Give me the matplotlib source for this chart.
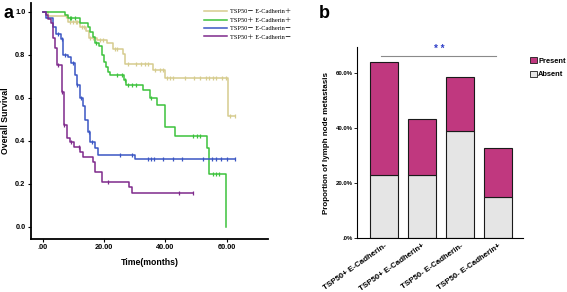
import numpy as np
import matplotlib
matplotlib.use("Agg")
import matplotlib.pyplot as plt
from matplotlib.font_manager import FontProperties
from matplotlib.patches import Patch

# ---------------- data: panel a (Kaplan-Meier) ----------------
tan_t = [0, 1.8, 8.4, 12.2, 14.1, 15.2, 17.6, 20.9, 23.0, 26.3, 26.8, 36.1, 39.9, 60.3]
tan_s = [1.0, 0.98, 0.953, 0.93, 0.912, 0.879, 0.868, 0.856, 0.825, 0.803, 0.757, 0.729, 0.69, 0.515]
tan_c = [7.5, 8.9, 9.8, 10.9, 11.3, 12.7, 13.5, 15.6, 16.5, 18.7, 19.8, 23.6, 24.3, 27.9, 30.6,
         32.0, 33.5, 34.4, 36.6, 38.3, 39.3, 40.6, 41.5, 42.4, 46.4, 49.3, 51.3, 53.2, 54.4,
         55.4, 56.7, 58.4, 59.8, 61.1, 62.7]

grn_t = [0, 7.3, 8.4, 12.2, 14.9, 15.4, 16.5, 17.1, 18.5, 19.2, 20.1, 20.6, 21.4, 21.9, 26.5,
         27.2, 32.8, 35.0, 37.2, 39.9, 43.1, 53.5, 54.3, 59.7]
grn_s = [1.0, 0.985, 0.969, 0.946, 0.93, 0.907, 0.884, 0.856, 0.84, 0.799, 0.767, 0.744, 0.721,
         0.706, 0.682, 0.659, 0.636, 0.60, 0.566, 0.465, 0.422, 0.365, 0.244, 0.0]
grn_c = [8.9, 9.4, 10.5, 17.4, 24.3, 25.8, 26.8, 27.9, 29.0, 30.6, 35.5, 49.1, 50.2, 51.3,
         55.6, 56.5, 57.4]

blu_t = [0, 1.0, 3.5, 4.3, 6.0, 6.7, 8.4, 9.2, 10.5, 11.1, 12.2, 13.2, 13.8, 14.7, 15.6,
         17.1, 18.1, 30.2]
blu_s = [1.0, 0.969, 0.93, 0.895, 0.873, 0.799, 0.788, 0.76, 0.706, 0.659, 0.60, 0.561, 0.496,
         0.442, 0.395, 0.365, 0.333, 0.315]
blu_c = [5.1, 6.4, 7.3, 9.8, 11.3, 12.4, 15.0, 16.2, 25.2, 29.3, 34.4, 35.5, 36.4, 39.3, 42.4,
         45.3, 52.4, 55.3, 56.5, 58.1, 60.2, 62.7]

pur_t = [0, 1.1, 1.8, 2.6, 3.3, 4.0, 4.6, 6.2, 7.0, 8.1, 8.9, 10.2, 12.2, 13.2, 16.3, 17.1,
         19.2, 28.2, 29.3]
pur_s = [1.0, 0.985, 0.966, 0.946, 0.876, 0.833, 0.752, 0.625, 0.473, 0.414, 0.393, 0.372,
         0.349, 0.326, 0.302, 0.256, 0.209, 0.183, 0.158]
pur_c = [5.1, 6.4, 7.0, 9.2, 12.0, 21.2, 44.4, 48.9]

km_labels = ["TSP50－ E-Cadherin＋", "TSP50＋ E-Cadherin＋",
             "TSP50－ E-Cadherin－", "TSP50＋ E-Cadherin－"]
km_colors = ["#d6cc8e", "#3cc23c", "#3a56c4", "#7f2a8c"]

# ---------------- data: panel b (stacked bars) ----------------
groups = ["TSP50+ E-Cadherin-", "TSP50+ E-Cadherin+", "TSP50- E-Cadherin-", "TSP50- E-Cadherin+"]
absent = [23.1, 23.1, 38.9, 14.9]
present = [41.2, 20.3, 19.9, 17.8]

sans = "Liberation Sans"

fig = plt.figure(figsize=(5.67, 2.92), dpi=100)

# ---------------- panel a ----------------
ax = fig.add_axes([31/567, 1-238.7/292, (268-31)/567, (238.7-3)/292])
series = [(tan_t, tan_s, tan_c), (grn_t, grn_s, grn_c), (blu_t, blu_s, blu_c), (pur_t, pur_s, pur_c)]
handles = []
for (t, s, c), col, lab in zip(series, km_colors, km_labels):
    t = np.asarray(t, float); s = np.asarray(s, float)
    tend = max(t[-1], max(c))
    tt = np.append(t, tend); ss = np.append(s, s[-1])
    h, = ax.step(tt, ss, where="post", color=col, lw=1.1, label=lab)
    handles.append(h)
    idx = np.searchsorted(t, np.asarray(c), side="right") - 1
    ax.plot(c, s[idx], ls="none", marker="|", ms=3.5, mew=0.9, color=col)

ax.set_xlim(-3.8, 73.5)
ax.set_ylim(-0.056, 1.04)
ax.set_xticks([0, 20, 40, 60])
ax.set_xticklabels([".00", "20.00", "40.00", "60.00"])
ax.set_yticks([0, 0.2, 0.4, 0.6, 0.8, 1.0])
ax.set_yticklabels(["0.0", "0.2", "0.4", "0.6", "0.8", "1.0"])
for sp in ["top", "right"]:
    ax.spines[sp].set_visible(False)
for sp in ["left", "bottom"]:
    ax.spines[sp].set_linewidth(1.3)
ax.tick_params(axis="both", length=2, width=0.8, pad=2)
for lbl in ax.get_xticklabels() + ax.get_yticklabels():
    lbl.set_fontfamily(sans); lbl.set_fontweight("bold"); lbl.set_fontsize(5.3)
ax.set_xlabel("Time(months)", fontfamily=sans, fontweight="bold", fontsize=6.3, labelpad=5)
ax.set_ylabel("Overall Survival", fontfamily=sans, fontweight="bold", fontsize=6.3, labelpad=4)

leg_font = FontProperties(family=["Liberation Serif", "Noto Sans CJK SC"], size=4.6)
fig.legend(handles=handles, labels=km_labels, loc="upper left",
           bbox_to_anchor=(204/567, 1-9/292), bbox_transform=fig.transFigure,
           frameon=False, prop=leg_font, handlelength=3.6, handletextpad=0.4,
           labelspacing=0.45, borderpad=0, borderaxespad=0)

fig.text(3/567, 1-18/292, "a", fontfamily=sans, fontweight="bold", fontsize=13)
fig.text(319/567, 1-18/292, "b", fontfamily=sans, fontweight="bold", fontsize=13)

# ---------------- panel b ----------------
bx = fig.add_axes([357.3/567, 1-238.3/292, (523.3-357.3)/567, (238.3-46.7)/292])
x = np.arange(len(groups))
bx.bar(x, absent, width=0.745, color="#e5e5e5", edgecolor="#1a1a1a", lw=0.8, label="Absent")
bx.bar(x, present, bottom=absent, width=0.745, color="#c0387f", edgecolor="#1a1a1a", lw=0.8,
       label="Present")
bx.set_xlim(-0.71, 3.66)
bx.set_ylim(0, 69.7)
bx.set_yticks([0, 20, 40, 60])
bx.set_yticklabels([".0%", "20.0%", "40.0%", "60.0%"])
bx.set_xticks(x)
bx.set_xticklabels(groups, rotation=35, ha="right", rotation_mode="anchor")
for sp in ["top", "right"]:
    bx.spines[sp].set_visible(False)
bx.spines["left"].set_linewidth(0.8)
bx.spines["bottom"].set_linewidth(0.8)
bx.tick_params(axis="y", length=2, width=0.6, pad=1.5)
bx.tick_params(axis="x", length=0, pad=3)
for lbl in bx.get_yticklabels():
    lbl.set_fontfamily(sans); lbl.set_fontweight("bold"); lbl.set_fontsize(4.3)
for lbl in bx.get_xticklabels():
    lbl.set_fontfamily(sans); lbl.set_fontweight("bold"); lbl.set_fontsize(5.7)
bx.set_ylabel("Proportion of lymph node metastasis", fontfamily=sans, fontweight="bold",
              fontsize=5.8, labelpad=4)

# significance bracket
bx.plot([-0.08, 2.95], [66.3, 66.3], color="#8a8a8a", lw=0.8, clip_on=False)
bx.text(1.45, 66.9, "* *", color="#2f3fc8", fontfamily=sans, fontweight="bold",
        fontsize=7, ha="center", va="bottom")

leg_handles = [Patch(facecolor="#c0387f", edgecolor="#1a1a1a", lw=0.6),
               Patch(facecolor="#e5e5e5", edgecolor="#1a1a1a", lw=0.6)]
fig.legend(handles=leg_handles, labels=["Present", "Absent"], loc="upper left",
           bbox_to_anchor=(530/567, 1-57/292), bbox_transform=fig.transFigure,
           frameon=False, prop=FontProperties(family=sans, weight="bold", size=5.4),
           handlelength=0.9, handleheight=0.9, handletextpad=0.2, labelspacing=0.8,
           borderpad=0, borderaxespad=0)

fig.savefig("out.png", dpi=100)
